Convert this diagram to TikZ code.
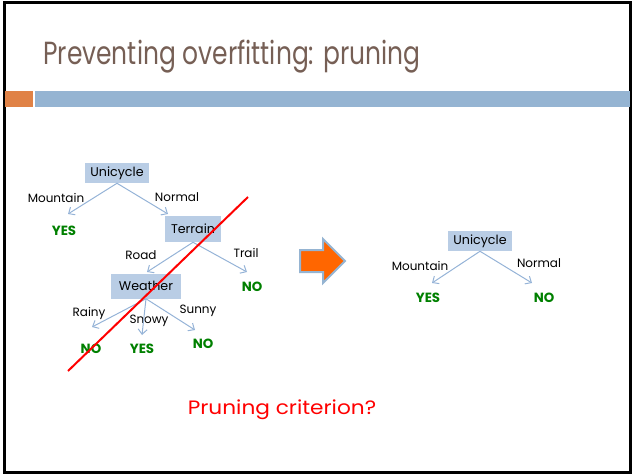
\documentclass[tikz,border=0pt]{standalone}
\usepackage{fontspec}
\setmainfont{Poppins}
\usetikzlibrary{arrows.meta}
\newlength\px
\setlength\px{0.75pt}
\definecolor{titlegray}{RGB}{118,95,85}
\definecolor{barorange}{RGB}{224,130,70}
\definecolor{barblue}{RGB}{149,180,210}
\definecolor{boxblue}{RGB}{185,205,229}
\definecolor{edgeblue}{RGB}{149,179,215}
\definecolor{leafgreen}{RGB}{0,128,0}
\definecolor{shiftorange}{RGB}{255,102,0}
\tikzset{
  attr/.style={fill=boxblue, minimum width=64\px, minimum height=20\px, inner sep=0pt,
    font=\fontsize{9.5pt}{11pt}\selectfont},
  branch/.style={inner sep=0pt, font=\fontsize{9pt}{11pt}\selectfont},
  leaf/.style={inner sep=0pt, text=leafgreen, font=\fontsize{10pt}{12pt}\selectfont\bfseries},
  edge/.style={draw=edgeblue, line width=0.75pt, -{Straight Barb[length=3.75pt,width=6.75pt]}},
}
\begin{document}
\begin{tikzpicture}[x=0.75pt, y=-0.75pt]
\useasboundingbox (0,0) rectangle (634,474);
% slide frame and header bars
\draw[line width=2.25pt] (4,2.5) rectangle (630,472);
\fill[barorange] (5,91) rectangle (33,107);
\fill[barblue] (35,91) rectangle (630,107);
\node[anchor=base west, inner sep=0pt, text=titlegray] (title) at (43,65)
  {\scalebox{0.78}[1]{\fontsize{24pt}{28pt}\selectfont Preventing overfitting: pruning}};

% full tree
\node[attr] (u1) at (117,173) {Unicycle};
\node[attr, minimum width=56\px, minimum height=26\px] (t1) at (193,229) {Terrain};
\node[attr, minimum width=70\px, minimum height=25\px] (w1) at (146,286) {Weather};
\node[leaf] (y1) at (64,231) {YES};
\node[leaf] (n1) at (252,287) {NO};
\node[leaf] (n2) at (91,349) {NO};
\node[leaf] (y2) at (142,349) {YES};
\node[leaf] (n3) at (203,344) {NO};
\node[branch] (lm1) at (56,198) {Mountain};
\node[branch] (ln1) at (177,197) {Normal};
\node[branch] (lr1) at (141,255) {Road};
\node[branch] (lt1) at (246,253) {Trail};
\node[branch] (lra) at (89,313) {Rainy};
\node[branch] (lsn) at (149,321) {Snowy};
\node[branch] (lsu) at (198,311) {Sunny};
\coordinate (e1) at (68,214);
\coordinate (e2) at (168,214);
\coordinate (e3) at (147,272);
\coordinate (e4) at (247,272);
\coordinate (e5) at (92,327);
\coordinate (e6) at (142,335);
\coordinate (e7) at (195,330);
\draw[edge] (u1.south) -- (e1);
\draw[edge] (u1.south) -- (e2);
\draw[edge] (t1.south) -- (e3);
\draw[edge] (t1.south) -- (e4);
\draw[edge] (w1.south) -- (e5);
\draw[edge] (w1.south) -- (e6);
\draw[edge] (w1.south) -- (e7);

% cut line
\coordinate (c1) at (68,371);
\coordinate (c2) at (248,197);
\draw[red, line width=1.5pt] (c1) -- (c2);

% block arrow
\draw[fill=shiftorange, draw=barblue, line width=1.5pt, line join=miter]
  (300,250) -- (323,250) -- (323,239) -- (345,261) -- (323,283) -- (323,272) -- (300,272) -- cycle;

% pruned tree
\node[attr] (u2) at (480,241) {Unicycle};
\node[leaf] (y3) at (428,298) {YES};
\node[leaf] (n4) at (544,298) {NO};
\node[branch] (lm2) at (420,266) {Mountain};
\node[branch] (ln2) at (539,263) {Normal};
\coordinate (e8) at (432,283);
\coordinate (e9) at (532,283);
\draw[edge] (u2.south) -- (e8);
\draw[edge] (u2.south) -- (e9);

\node[text=red, inner sep=0pt, font=\fontsize{14.5pt}{17pt}\selectfont] (crit) at (282,410)
  {\scalebox{1.12}[1]{Pruning criterion?}};
\end{tikzpicture}
\end{document}
